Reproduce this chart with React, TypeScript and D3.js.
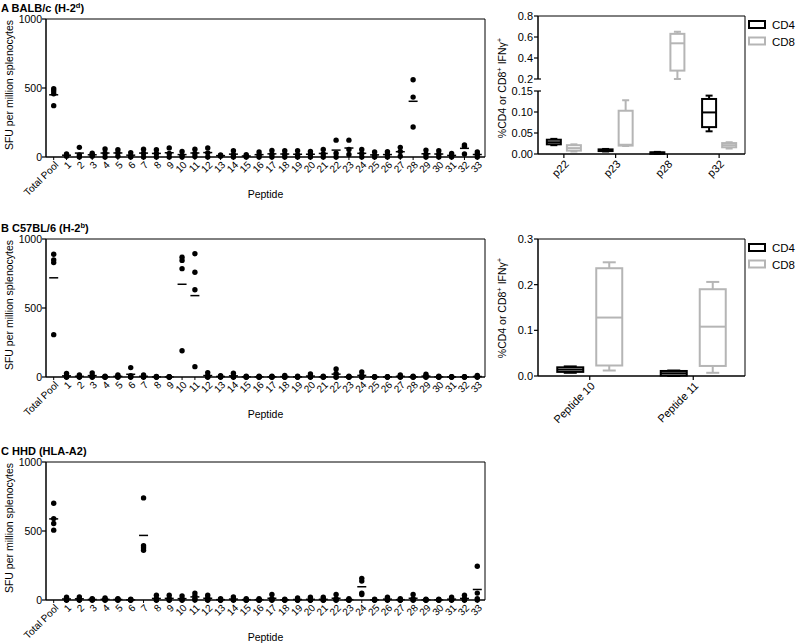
import React from "react";
import * as d3 from "d3";

const categories = ["Total Pool", "1", "2", "3", "4", "5", "6", "7", "8", "9", "10", "11", "12", "13", "14", "15", "16", "17", "18", "19", "20", "21", "22", "23", "24", "25", "26", "27", "28", "29", "30", "31", "32", "33"];
const sfuTicks = [0, 500, 1000];

const balbcValues: number[][] = [
  [495, 478, 458, 372], [22, 12, 5], [70, 15, 0], [28, 15, 5], [58, 28, 0], [53, 30, 5], [32, 8, 0],
  [57, 28, 0], [52, 26, 0], [66, 26, 0], [40, 12, 0], [57, 26, 4], [66, 30, 0], [15, 10, 5],
  [46, 16, 0], [16, 6, 0], [36, 15, 0], [48, 20, 0], [45, 20, 0], [45, 15, 0], [40, 20, 0],
  [55, 22, 0], [122, 28, 0], [122, 55, 18], [55, 25, 0], [36, 10, 0], [38, 15, 0], [70, 40, 5],
  [560, 434, 217], [50, 20, 0], [45, 20, 0], [25, 10, 0], [88, 78, 22], [36, 18, 0],
];

const c57Values: number[][] = [
  [890, 849, 829, 307], [25, 8, 0, 0], [15, 5, 0, 0], [30, 10, 0, 0], [6, 0, 0, 0], [14, 5, 0, 0],
  [68, 10, 0, 0], [15, 5, 0, 0], [4, 0, 0, 0], [3, 0, 0, 0], [868, 845, 785, 190], [893, 759, 632, 75],
  [32, 10, 0, 0], [10, 5, 0, 0], [28, 5, 0, 0], [6, 0, 0, 0], [5, 0, 0, 0], [5, 0, 0, 0], [12, 0, 0, 0],
  [5, 0, 0, 0], [22, 5, 0, 0], [5, 0, 0, 0], [58, 25, 0, 0], [5, 0, 0, 0], [36, 10, 0, 0], [3, 0, 0, 0],
  [3, 0, 0, 0], [15, 5, 0, 0], [5, 0, 0, 0], [20, 5, 0, 0], [5, 0, 0, 0], [3, 0, 0, 0], [3, 0, 0, 0],
  [12, 3, 0, 0],
];

const hhdValues: number[][] = [
  [701, 590, 554, 506], [20, 10, 0, 0], [22, 12, 0, 0], [10, 5, 0, 0], [15, 5, 0, 0], [10, 5, 0, 0],
  [5, 0, 0, 0], [740, 393, 378, 361], [35, 10, 0, 0], [35, 12, 0, 0], [30, 10, 0, 0], [50, 30, 10, 0],
  [35, 15, 0, 0], [10, 0, 0, 0], [22, 5, 0, 0], [10, 0, 0, 0], [10, 0, 0, 0], [40, 10, 0, 0], [5, 0, 0, 0],
  [15, 0, 0, 0], [20, 0, 0, 0], [20, 0, 0, 0], [40, 10, 0, 0], [10, 0, 0, 0], [157, 137, 50, 40],
  [5, 0, 0, 0], [20, 5, 0, 0], [10, 0, 0, 0], [40, 10, 0, 0], [5, 0, 0, 0], [5, 0, 0, 0], [20, 5, 0, 0],
  [35, 10, 0, 0], [245, 50, 10, 0],
];

const seriesNames = ["CD4", "CD8"];

// box stats: [min, q1, median, q3, max]
const boxGroupsA = ["p22", "p23", "p28", "p32"];
const boxCD4A = [
  [0.021, 0.023, 0.028, 0.034, 0.036],
  [0.006, 0.007, 0.009, 0.011, 0.012],
  [0.001, 0.002, 0.003, 0.004, 0.005],
  [0.054, 0.064, 0.099, 0.131, 0.139],
];
const boxCD8A = [
  [0.006, 0.008, 0.014, 0.021, 0.023],
  [0.019, 0.020, 0.022, 0.103, 0.128],
  [0.2, 0.28, 0.54, 0.63, 0.65],
  [0.013, 0.016, 0.021, 0.026, 0.028],
];
const upperTicksA = [0.2, 0.4, 0.6, 0.8];
const lowerTicksA = [0, 0.05, 0.1, 0.15];

const boxGroupsB = ["Peptide 10", "Peptide 11"];
const boxCD4B = [
  [0.007, 0.009, 0.014, 0.019, 0.021],
  [0.0, 0.001, 0.006, 0.011, 0.012],
];
const boxCD8B = [
  [0.012, 0.023, 0.128, 0.236, 0.249],
  [0.007, 0.022, 0.108, 0.19, 0.206],
];
const ticksB = [0, 0.1, 0.2, 0.3];

const FONT = "'Liberation Sans', Arial, sans-serif";
const GREY = "#b5b5b5";

function DotPanel({ label, strain, sup, tail, values, top }: any) {
  const left = 46, right = 485, bottom = top + 138;
  const x = d3.scalePoint<string>().domain(categories).range([left, right]).padding(0.6);
  const y = d3.scaleLinear().domain([0, 1000]).range([bottom, top]);
  return (
    <g fontFamily={FONT}>
      <text x={1} y={top - 7} fontSize={11} fontWeight="bold">
        {label} {strain}
        {sup ? <tspan dy={-4} fontSize={7.5}>{sup}</tspan> : null}
        <tspan dy={sup ? 4 : 0}>{tail}</tspan>
      </text>
      <line x1={left} x2={right} y1={top} y2={top} stroke="#000" strokeWidth={1} />
      <line x1={right} x2={right} y1={top} y2={bottom} stroke="#000" strokeWidth={1} />
      <line x1={left} x2={left} y1={top} y2={bottom} stroke="#000" strokeWidth={1.5} />
      <line x1={left} x2={right} y1={bottom} y2={bottom} stroke="#000" strokeWidth={1.5} />
      {sfuTicks.map((t) => (
        <g key={t}>
          <line x1={left - 4} x2={left} y1={y(t)} y2={y(t)} stroke="#000" strokeWidth={1.2} />
          <text x={left - 4} y={y(t)} dy="0.35em" textAnchor="end" fontSize={10.5}>{t}</text>
        </g>
      ))}
      {categories.map((c, i) => {
        const cx = x(c)!;
        const vals = values[i] as number[];
        const mean = d3.mean(vals)!;
        return (
          <g key={c}>
            <line x1={cx} x2={cx} y1={bottom} y2={bottom + 3} stroke="#000" strokeWidth={1} />
            <text transform={`translate(${cx + 3},${bottom + 6}) rotate(-45)`} dy="0.35em" textAnchor="end" fontSize={10}>{c}</text>
            {vals.map((v, j) => (
              <circle key={j} cx={cx} cy={y(v)} r={2.7} fill="#000" />
            ))}
            <line x1={cx - 4.5} x2={cx + 4.5} y1={y(mean)} y2={y(mean)} stroke="#000" strokeWidth={1.5} />
          </g>
        );
      })}
      <text transform={`translate(13,${top + 66}) rotate(-90)`} textAnchor="middle" fontSize={10.5}>SFU per million splenocytes</text>
      <text x={(left + right) / 2} y={bottom + 41} textAnchor="middle" fontSize={10.5}>Peptide</text>
    </g>
  );
}

function Box({ cx, w, stats, yf, color }: any) {
  const [mn, q1, md, q3, mx] = stats;
  const cap = w / 2;
  return (
    <g stroke={color} strokeWidth={2} fill="none">
      <line x1={cx} x2={cx} y1={yf(mx)} y2={yf(q3)} />
      <line x1={cx} x2={cx} y1={yf(q1)} y2={yf(mn)} />
      <line x1={cx - cap / 2} x2={cx + cap / 2} y1={yf(mx)} y2={yf(mx)} />
      <line x1={cx - cap / 2} x2={cx + cap / 2} y1={yf(mn)} y2={yf(mn)} />
      <rect x={cx - w / 2} y={yf(q3)} width={w} height={Math.max(yf(q1) - yf(q3), 1.5)} fill="#fff" />
      <line x1={cx - w / 2} x2={cx + w / 2} y1={yf(md)} y2={yf(md)} />
    </g>
  );
}

function Legend({ top }: any) {
  return (
    <g fontFamily={FONT}>
      {seriesNames.map((s, i) => (
        <g key={s}>
          <rect x={749} y={top + i * 16.5} width={16} height={7} fill="none" stroke={i === 0 ? "#000" : GREY} strokeWidth={2} />
          <text x={772} y={top + i * 16.5 + 8} fontSize={11.5}>{s}</text>
        </g>
      ))}
    </g>
  );
}

function YTitleRight({ cy }: any) {
  return (
    <text transform={`translate(506,${cy}) rotate(-90)`} textAnchor="middle" fontSize={10.5} fontFamily={FONT}>
      %CD4 or CD8<tspan dy={-4} fontSize={7.5}>+</tspan><tspan dy={4}> IFNγ</tspan><tspan dy={-4} fontSize={7.5}>+</tspan>
    </text>
  );
}

function BoxPanelA() {
  const left = 538, right = 745, top = 16, bottom = 154;
  const upper = d3.scaleLinear().domain([0.2, 0.8]).range([79, top]);
  const lower = d3.scaleLinear().domain([0, 0.15]).range([bottom, 91]);
  const yf = (v: number) => (v >= 0.18 ? upper(v) : lower(v));
  const gx = d3.scaleBand<string>().domain(boxGroupsA).range([left, right]);
  const sx = d3.scalePoint<string>().domain(seriesNames).range([0, gx.bandwidth()]).padding(0.79);
  return (
    <g fontFamily={FONT}>
      <line x1={left} x2={right} y1={top} y2={top} stroke="#000" strokeWidth={1} />
      <line x1={right} x2={right} y1={top} y2={bottom} stroke="#000" strokeWidth={1} />
      <line x1={left} x2={left} y1={top} y2={upper(0.2)} stroke="#000" strokeWidth={1.5} />
      <line x1={left} x2={left} y1={lower(0.15)} y2={bottom} stroke="#000" strokeWidth={1.5} />
      <line x1={left} x2={right} y1={bottom} y2={bottom} stroke="#000" strokeWidth={1.5} />
      {upperTicksA.map((t) => (
        <g key={"u" + t}>
          <line x1={left - 4} x2={t === 0.2 ? left + 3 : left} y1={upper(t)} y2={upper(t)} stroke="#000" strokeWidth={1.2} />
          <text x={left - 5} y={upper(t)} dy="0.35em" textAnchor="end" fontSize={11}>{t.toFixed(1)}</text>
        </g>
      ))}
      {lowerTicksA.map((t) => (
        <g key={"l" + t}>
          <line x1={left - 4} x2={t === 0.15 ? left + 3 : left} y1={lower(t)} y2={lower(t)} stroke="#000" strokeWidth={1.2} />
          <text x={left - 5} y={lower(t)} dy="0.35em" textAnchor="end" fontSize={11}>{t.toFixed(2)}</text>
        </g>
      ))}
      {boxGroupsA.map((g, i) => {
        const gc = gx(g)! + gx.bandwidth() / 2;
        return (
          <g key={g}>
            <line x1={gc} x2={gc} y1={bottom} y2={bottom + 4} stroke="#000" strokeWidth={1.2} />
            <text transform={`translate(${gc + 3},${bottom + 8}) rotate(-45)`} dy="0.35em" textAnchor="end" fontSize={11}>{g}</text>
            <Box cx={gx(g)! + sx("CD4")!} w={14} stats={boxCD4A[i]} yf={yf} color="#000" />
            <Box cx={gx(g)! + sx("CD8")!} w={14} stats={boxCD8A[i]} yf={yf} color={GREY} />
          </g>
        );
      })}
      <YTitleRight cy={88} />
      <Legend top={21} />
    </g>
  );
}

function BoxPanelB() {
  const left = 538, right = 745, top = 239, bottom = 376;
  const y = d3.scaleLinear().domain([0, 0.3]).range([bottom, top]);
  const gx = d3.scaleBand<string>().domain(boxGroupsB).range([left, right]);
  const sx = d3.scalePoint<string>().domain(seriesNames).range([0, gx.bandwidth()]).padding(0.827);
  return (
    <g fontFamily={FONT}>
      <line x1={left} x2={right} y1={top} y2={top} stroke="#000" strokeWidth={1} />
      <line x1={right} x2={right} y1={top} y2={bottom} stroke="#000" strokeWidth={1} />
      <line x1={left} x2={left} y1={top} y2={bottom} stroke="#000" strokeWidth={1.5} />
      <line x1={left} x2={right} y1={bottom} y2={bottom} stroke="#000" strokeWidth={1.5} />
      {ticksB.map((t) => (
        <g key={t}>
          <line x1={left - 4} x2={left} y1={y(t)} y2={y(t)} stroke="#000" strokeWidth={1.2} />
          <text x={left - 5} y={y(t)} dy="0.35em" textAnchor="end" fontSize={11}>{t.toFixed(1)}</text>
        </g>
      ))}
      {boxGroupsB.map((g, i) => {
        const gc = gx(g)! + gx.bandwidth() / 2;
        return (
          <g key={g}>
            <line x1={gc} x2={gc} y1={bottom} y2={bottom + 4} stroke="#000" strokeWidth={1.2} />
            <text transform={`translate(${gc + 3},${bottom + 8}) rotate(-45)`} dy="0.35em" textAnchor="end" fontSize={11}>{g}</text>
            <Box cx={gx(g)! + sx("CD4")!} w={26} stats={boxCD4B[i]} yf={y} color="#000" />
            <Box cx={gx(g)! + sx("CD8")!} w={26} stats={boxCD8B[i]} yf={y} color={GREY} />
          </g>
        );
      })}
      <YTitleRight cy={308} />
      <Legend top={244} />
    </g>
  );
}

export default function App() {
  return (
    <svg width={796} height={643} style={{ position: "absolute", left: 0, top: 0, background: "#fff" }}>
      <rect width={796} height={643} fill="#fff" />
      <DotPanel label="A" strain="BALB/c (H-2" sup="d" tail=")" values={balbcValues} top={19} />
      <DotPanel label="B" strain="C57BL/6 (H-2" sup="b" tail=")" values={c57Values} top={239} />
      <DotPanel label="C" strain="HHD (HLA-A2" sup="" tail=")" values={hhdValues} top={462} />
      <BoxPanelA />
      <BoxPanelB />
    </svg>
  );
}
